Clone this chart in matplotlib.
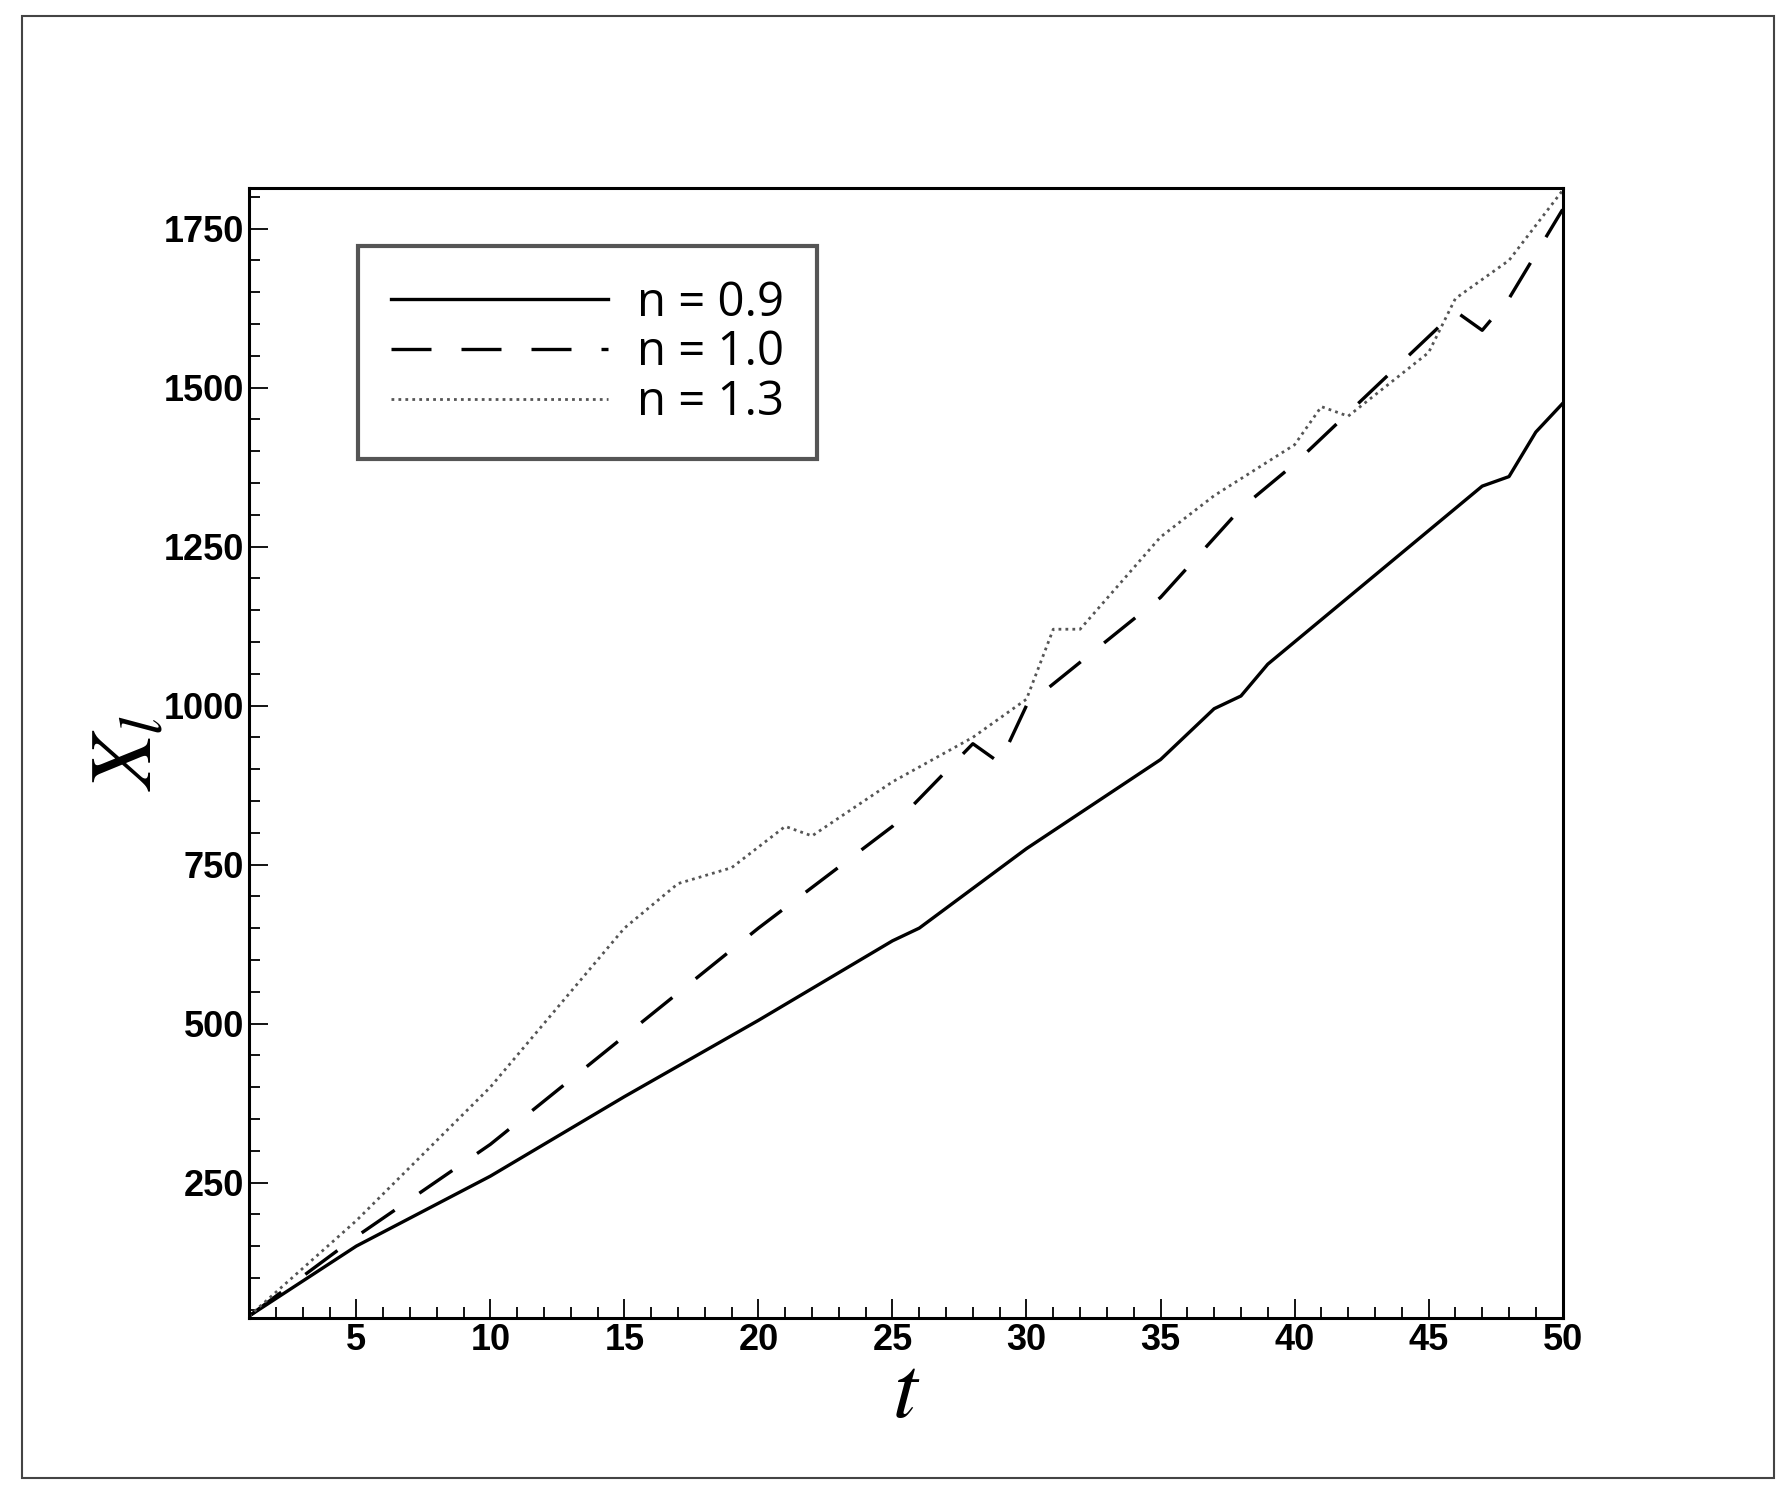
import matplotlib
matplotlib.use("Agg")
import matplotlib.pyplot as plt
from matplotlib.patches import Rectangle
from matplotlib.ticker import MultipleLocator

t09 = [1, 5, 10, 15, 20, 25, 26, 30, 35, 37, 38, 39, 40, 45, 47, 48, 49, 50]
x09 = [40, 150, 260, 385, 505, 630, 650, 775, 915, 995, 1015, 1065, 1100, 1275, 1345, 1360, 1430, 1475]
t10 = [1, 5, 10, 15, 20, 25, 28, 29, 30, 35, 38, 40, 44, 46, 47, 48, 50]
x10 = [40, 165, 310, 480, 650, 810, 940, 910, 1000, 1170, 1310, 1380, 1540, 1620, 1590, 1640, 1780]
t13 = [1, 5, 10, 12, 15, 17, 19, 21, 22, 25, 28, 30, 31, 32, 35, 37, 40, 41, 42, 45, 46, 48, 50]
x13 = [40, 190, 400, 500, 650, 720, 745, 810, 795, 880, 950, 1010, 1120, 1120, 1265, 1330, 1410, 1470, 1455, 1555, 1640, 1700, 1810]

plt.rcParams['font.family'] = ['Liberation Sans', 'DejaVu Sans']
plt.rcParams['mathtext.fontset'] = 'stix'

fig = plt.figure(figsize=(17.92, 14.96), dpi=100)
ax = fig.add_axes([0.139, 0.119, 0.733, 0.755])
fig.patches.append(Rectangle((0.012, 0.012), 0.978, 0.977, transform=fig.transFigure,
                             fill=False, edgecolor='#444444', lw=1.5))

ax.plot(t09, x09, color='black', lw=2.4, label='n = 0.9')
ax.plot(t10, x10, color='black', lw=2.4, dashes=(12, 9), label='n = 1.0')
ax.plot(t13, x13, color='#555555', lw=2, linestyle=(0, (1, 1.5)), label='n = 1.3')

ax.set_xlim(1, 50)
ax.set_ylim(37, 1813)
ax.xaxis.set_major_locator(MultipleLocator(5))
ax.xaxis.set_minor_locator(MultipleLocator(1))
ax.yaxis.set_minor_locator(MultipleLocator(50))
ax.set_yticks([250, 500, 750, 1000, 1250, 1500, 1750])
ax.tick_params(which='both', direction='in', labelsize=26, width=1.3)
ax.tick_params(which='major', length=14)
ax.tick_params(which='minor', length=8)
for lab in ax.get_xticklabels() + ax.get_yticklabels():
    lab.set_fontweight('bold')
for s in ax.spines.values():
    s.set_linewidth(2.2)

ax.set_xlabel('$t$', fontsize=64, labelpad=-4)
ax.set_ylabel('$X_l$', fontsize=64, labelpad=-4)

leg = ax.legend(loc='upper left', bbox_to_anchor=(0.065, 0.97), fontsize=34, handlelength=4.6,
                fancybox=False, edgecolor='#555555', framealpha=1, borderpad=0.7,
                labelspacing=0.05, handletextpad=0.6, prop={'family': 'Open Sans', 'size': 34})
leg.get_frame().set_linewidth(3)

fig.savefig('out.png', dpi=100)
